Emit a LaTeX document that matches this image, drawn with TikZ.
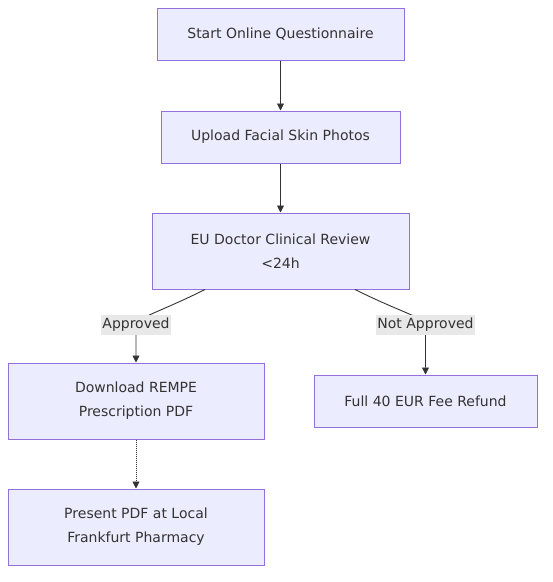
\documentclass[tikz,border=0pt]{standalone}
\usepackage{fontspec}
\setmainfont{DejaVu Sans}
\usetikzlibrary{arrows.meta}
\definecolor{boxfill}{HTML}{ECECFF}
\definecolor{boxline}{HTML}{9370DB}
\definecolor{ink}{HTML}{333333}
\definecolor{lblbg}{HTML}{E8E8E8}
\begin{document}
\begin{tikzpicture}[x=1pt,y=-1pt,
  flowbox/.style={draw=boxline,fill=boxfill,line width=1pt,align=center,
    text=ink,font=\fontsize{14}{24}\selectfont,inner sep=0pt,anchor=center},
  edgelbl/.style={fill=lblbg,text=ink,font=\fontsize{14}{17}\selectfont,inner xsep=1pt,inner ysep=3pt},
  conn/.style={draw=ink,line width=0.9pt,-{Triangle[length=7pt,width=7pt]}}]
\useasboundingbox (0,0) rectangle (553,582);
\node[flowbox,minimum width=247pt,minimum height=52pt] (start) at (280.5,34) {Start Online Questionnaire};
\node[flowbox,minimum width=239pt,minimum height=52pt] (upload) at (280.5,137) {Upload Facial Skin Photos};
\node[flowbox,minimum width=257pt,minimum height=76pt] (review) at (280.5,251) {EU Doctor Clinical Review\\<24h};
\node[flowbox,minimum width=256pt,minimum height=76pt] (download) at (136,401) {Download REMPE\\Prescription PDF};
\node[flowbox,minimum width=223pt,minimum height=52pt] (refund) at (425.5,401) {Full 40 EUR Fee Refund};
\node[flowbox,minimum width=256pt,minimum height=76pt] (present) at (136,527) {Present PDF at Local\\Frankfurt Pharmacy};
\coordinate (la) at (136,325);
\coordinate (lb) at (425.5,325);
\draw[conn] (start) -- (upload);
\draw[conn] (upload) -- (review);
\draw[conn] (205,289.5) .. controls (160,312) and (136,318) .. (la) .. controls (136,335) and (136,345) .. (download.north);
\draw[conn] (355,289.5) .. controls (400,312) and (425.5,318) .. (lb) .. controls (425.5,335) and (425.5,355) .. (refund.north);
\node[edgelbl] (lbla) at (la) {Approved};
\node[edgelbl] (lblb) at (lb) {Not Approved};
\draw[conn,dash pattern=on 1pt off 1pt] (download) -- (present);
\end{tikzpicture}
\end{document}
